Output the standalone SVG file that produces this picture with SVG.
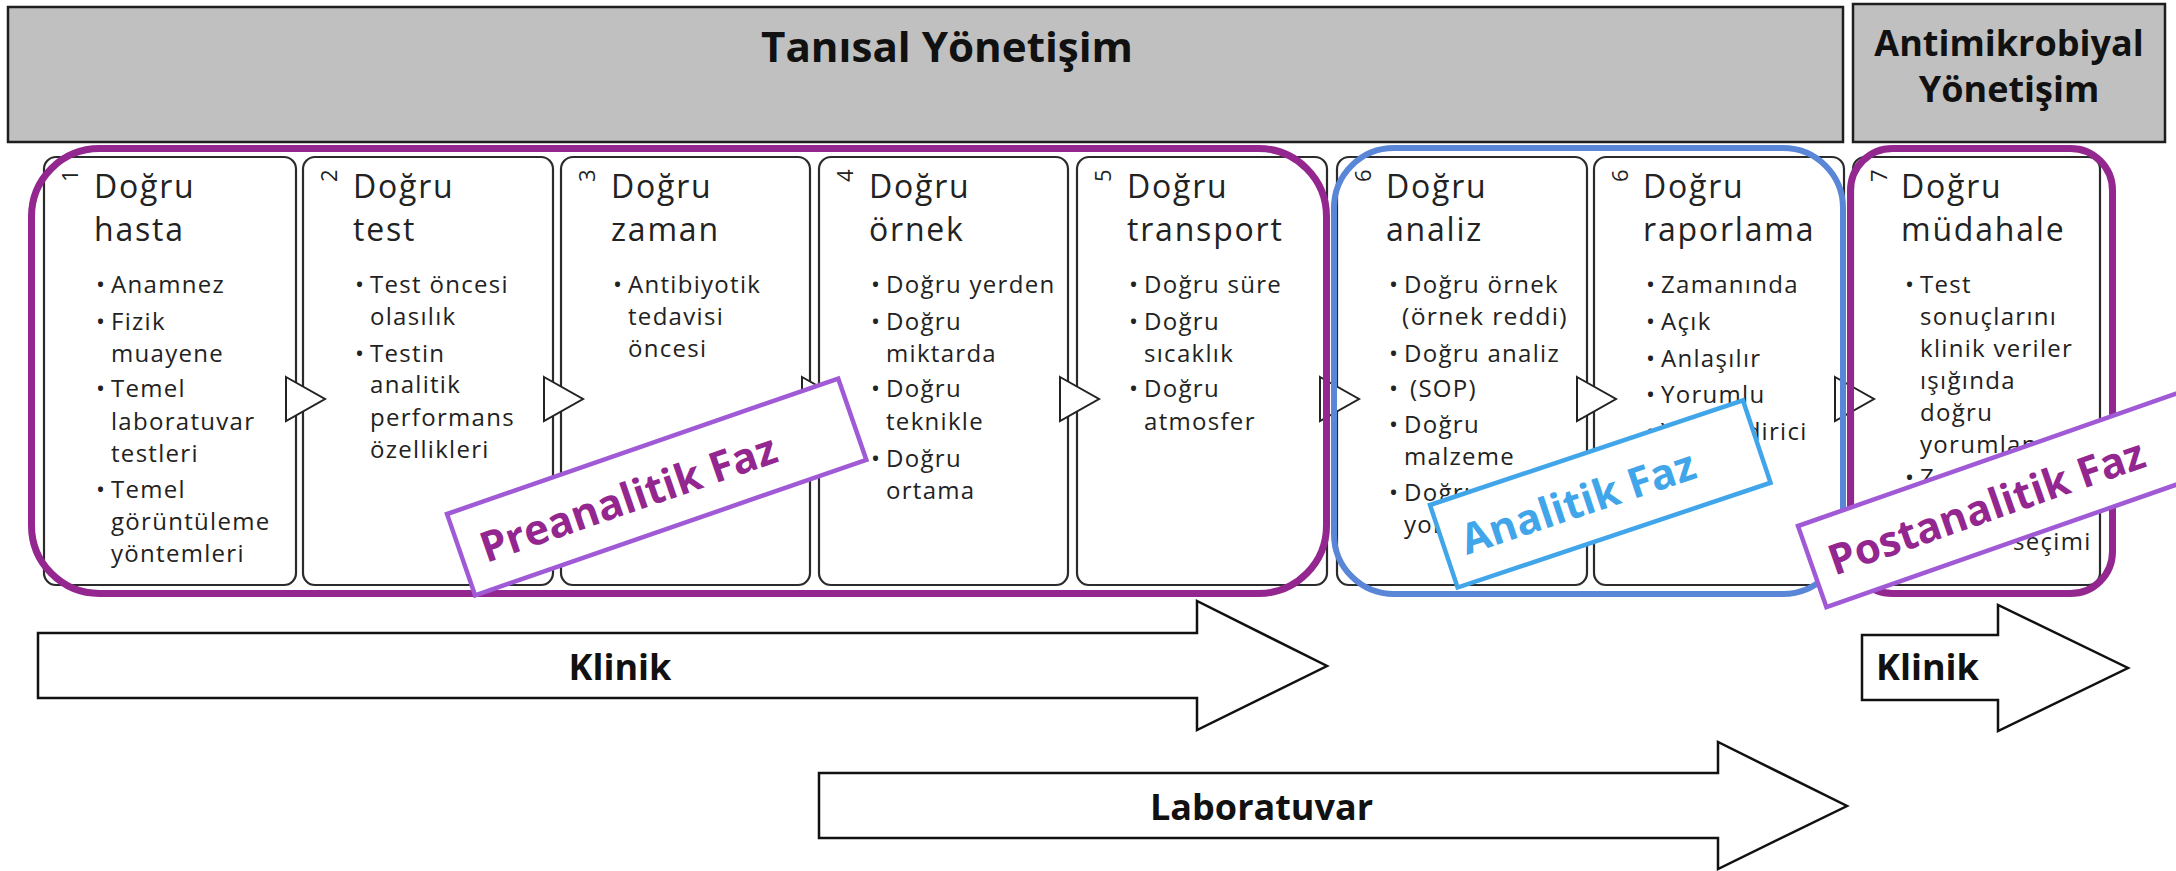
<svg xmlns="http://www.w3.org/2000/svg" width="2176" height="871" viewBox="0 0 2176 871">
<style>
.hdr{fill:#c0c0c0;stroke:#1e1e1e;stroke-width:2.5}
.ht{font-family:"Open Sans",sans-serif;font-weight:bold;fill:#111}
.card{fill:#fff;stroke:#2b2b2b;stroke-width:2.2}
.t{font-family:"Open Sans",sans-serif;font-size:32px;letter-spacing:1.8px;fill:#222}
.b{font-family:"Open Sans",sans-serif;font-size:24px;letter-spacing:1.3px;fill:#222}
.n{font-family:"Open Sans",sans-serif;font-size:22px;fill:#222}
.chev{fill:#fff;stroke:#222;stroke-width:2}
.frP{fill:none;stroke:#93278f;stroke-width:7}
.frB{fill:none;stroke:#5a86d8;stroke-width:6}
.arr{fill:#fff;stroke:#111;stroke-width:2.5}
.at{font-family:"Open Sans",sans-serif;font-weight:bold;font-size:36px;fill:#111}
.lbP{fill:#fff;stroke:#a05ad6;stroke-width:4.5}
.lbB{fill:#fff;stroke:#41a5ea;stroke-width:4.5}
.lt{font-family:"Open Sans",sans-serif;font-weight:bold;font-size:42px}
</style>

<g id="header-tanisal">
<rect class="hdr" x="8" y="7" width="1835" height="135"/>
<text class="ht" x="947" y="62" font-size="42" text-anchor="middle" textLength="372" lengthAdjust="spacingAndGlyphs">Tanısal Yönetişim</text>
</g>
<g id="header-antimikrobiyal">
<rect class="hdr" x="1853" y="4" width="312" height="138"/>
<text class="ht" font-size="36" text-anchor="middle"><tspan x="2009" y="56">Antimikrobiyal</tspan><tspan x="2009" y="102">Yönetişim</tspan></text>
</g>

<g id="card1">
<rect class="card" x="44" y="157" width="252" height="428" rx="12"/>
<text class="n" x="78" y="182" transform="rotate(-90 78 182)">1</text>
<text class="t"><tspan x="94" y="198">Doğru</tspan><tspan x="94" y="241">hasta</tspan></text>
<text class="b"><tspan x="96" y="293">•</tspan><tspan x="111">Anamnez</tspan></text>
<text class="b"><tspan x="96" y="330">•</tspan><tspan x="111">Fizik</tspan><tspan x="111" y="362">muayene</tspan></text>
<text class="b"><tspan x="96" y="397">•</tspan><tspan x="111">Temel</tspan><tspan x="111" y="430">laboratuvar</tspan><tspan x="111" y="462">testleri</tspan></text>
<text class="b"><tspan x="96" y="498">•</tspan><tspan x="111">Temel</tspan><tspan x="111" y="530">görüntüleme</tspan><tspan x="111" y="562">yöntemleri</tspan></text>
</g>

<g id="card2">
<rect class="card" x="303" y="157" width="250" height="428" rx="12"/>
<text class="n" x="337" y="182" transform="rotate(-90 337 182)">2</text>
<text class="t"><tspan x="353" y="198">Doğru</tspan><tspan x="353" y="241">test</tspan></text>
<text class="b"><tspan x="355" y="293">•</tspan><tspan x="370">Test öncesi</tspan><tspan x="370" y="325">olasılık</tspan></text>
<text class="b"><tspan x="355" y="362">•</tspan><tspan x="370">Testin</tspan><tspan x="370" y="393">analitik</tspan><tspan x="370" y="426">performans</tspan><tspan x="370" y="458">özellikleri</tspan></text>
</g>

<g id="card3">
<rect class="card" x="561" y="157" width="249" height="428" rx="12"/>
<text class="n" x="595" y="182" transform="rotate(-90 595 182)">3</text>
<text class="t"><tspan x="611" y="198">Doğru</tspan><tspan x="611" y="241">zaman</tspan></text>
<text class="b"><tspan x="613" y="293">•</tspan><tspan x="628">Antibiyotik</tspan><tspan x="628" y="325">tedavisi</tspan><tspan x="628" y="357">öncesi</tspan></text>
</g>

<g id="card4">
<rect class="card" x="819" y="157" width="249" height="428" rx="12"/>
<text class="n" x="853" y="182" transform="rotate(-90 853 182)">4</text>
<text class="t"><tspan x="869" y="198">Doğru</tspan><tspan x="869" y="241">örnek</tspan></text>
<text class="b"><tspan x="871" y="293">•</tspan><tspan x="886">Doğru yerden</tspan></text>
<text class="b"><tspan x="871" y="330">•</tspan><tspan x="886">Doğru</tspan><tspan x="886" y="362">miktarda</tspan></text>
<text class="b"><tspan x="871" y="397">•</tspan><tspan x="886">Doğru</tspan><tspan x="886" y="430">teknikle</tspan></text>
<text class="b"><tspan x="871" y="467">•</tspan><tspan x="886">Doğru</tspan><tspan x="886" y="499">ortama</tspan></text>
</g>

<g id="card5">
<rect class="card" x="1077" y="157" width="250" height="428" rx="12"/>
<text class="n" x="1111" y="182" transform="rotate(-90 1111 182)">5</text>
<text class="t"><tspan x="1127" y="198">Doğru</tspan><tspan x="1127" y="241">transport</tspan></text>
<text class="b"><tspan x="1129" y="293">•</tspan><tspan x="1144">Doğru süre</tspan></text>
<text class="b"><tspan x="1129" y="330">•</tspan><tspan x="1144">Doğru</tspan><tspan x="1144" y="362">sıcaklık</tspan></text>
<text class="b"><tspan x="1129" y="397">•</tspan><tspan x="1144">Doğru</tspan><tspan x="1144" y="430">atmosfer</tspan></text>
</g>

<g id="card6">
<rect class="card" x="1337" y="157" width="250" height="428" rx="12"/>
<text class="n" x="1371" y="182" transform="rotate(-90 1371 182)">6</text>
<text class="t"><tspan x="1386" y="198">Doğru</tspan><tspan x="1386" y="241">analiz</tspan></text>
<text class="b"><tspan x="1389" y="293">•</tspan><tspan x="1404">Doğru örnek</tspan><tspan x="1402" y="325" textLength="166" lengthAdjust="spacingAndGlyphs">(örnek reddi)</tspan></text>
<text class="b"><tspan x="1389" y="362">•</tspan><tspan x="1404">Doğru analiz</tspan></text>
<text class="b"><tspan x="1389" y="397">•</tspan><tspan x="1410">(SOP)</tspan></text>
<text class="b"><tspan x="1389" y="433">•</tspan><tspan x="1404">Doğru</tspan><tspan x="1404" y="465">malzeme</tspan></text>
<text class="b"><tspan x="1389" y="501">•</tspan><tspan x="1404">Doğru</tspan><tspan x="1404" y="533">yorum</tspan></text>
</g>

<g id="card6b">
<rect class="card" x="1594" y="157" width="250" height="428" rx="12"/>
<text class="n" x="1628" y="182" transform="rotate(-90 1628 182)">6</text>
<text class="t"><tspan x="1643" y="198">Doğru</tspan><tspan x="1643" y="241">raporlama</tspan></text>
<text class="b"><tspan x="1646" y="293">•</tspan><tspan x="1661">Zamanında</tspan></text>
<text class="b"><tspan x="1646" y="330">•</tspan><tspan x="1661">Açık</tspan></text>
<text class="b"><tspan x="1646" y="367">•</tspan><tspan x="1661">Anlaşılır</tspan></text>
<text class="b"><tspan x="1646" y="403">•</tspan><tspan x="1661">Yorumlu</tspan></text>
<text class="b"><tspan x="1646" y="440">•</tspan><tspan x="1661">Yönlendirici</tspan></text>
</g>

<g id="card7">
<rect class="card" x="1853" y="157" width="247" height="428" rx="12"/>
<text class="n" x="1887" y="182" transform="rotate(-90 1887 182)">7</text>
<text class="t"><tspan x="1901" y="198">Doğru</tspan><tspan x="1901" y="241">müdahale</tspan></text>
<text class="b"><tspan x="1905" y="293">•</tspan><tspan x="1920">Test</tspan><tspan x="1920" y="325">sonuçlarını</tspan><tspan x="1920" y="357">klinik veriler</tspan><tspan x="1920" y="389">ışığında</tspan><tspan x="1920" y="421">doğru</tspan><tspan x="1920" y="453">yorumlanması</tspan><tspan x="1905" y="486">•</tspan><tspan x="1920">Z</tspan><tspan x="2013" y="550">seçimi</tspan></text>
</g>

<g id="connectors">
<polygon class="chev" points="286,377 325,399 286,421"/>
<polygon class="chev" points="544,377 583,399 544,421"/>
<polygon class="chev" points="802,377 841,399 802,421"/>
<polygon class="chev" points="1060,377 1099,399 1060,421"/>
<polygon class="chev" points="1320,377 1359,399 1320,421"/>
<polygon class="chev" points="1577,377 1616,399 1577,421"/>
<polygon class="chev" points="1835,377 1874,399 1835,421"/>
</g>

<g id="frames">
<rect class="frP" x="31.5" y="148.5" width="1295" height="445" rx="68"/>
<rect class="frB" x="1334" y="148" width="509" height="446" rx="60"/>
<rect class="frP" x="1850.5" y="148.5" width="262" height="445" rx="42"/>
</g>

<g id="arrow-klinik1">
<polygon class="arr" points="38,633 1197,633 1197,601 1327,666 1197,730 1197,698 38,698"/>
<text class="at" x="620" y="680" text-anchor="middle">Klinik</text>
</g>
<g id="arrow-laboratuvar">
<polygon class="arr" points="819,773 1718,773 1718,742 1847,806 1718,869 1718,838 819,838"/>
<text class="at" x="1150" y="820">Laboratuvar</text>
</g>
<g id="arrow-klinik2">
<polygon class="arr" points="1862,635 1998,635 1998,605 2128,668 1998,731 1998,700 1862,700"/>
<text class="at" x="1876" y="680">Klinik</text>
</g>

<g id="label-preanalitik" transform="translate(447,514) rotate(-19.1)">
<rect class="lbP" x="0" y="0" width="414" height="86"/>
<text class="lt" x="21" y="59" fill="#93278f">Preanalitik Faz</text>
</g>
<g id="label-analitik" transform="translate(1430,505) rotate(-18.5)">
<rect class="lbB" x="0" y="0" width="330" height="87"/>
<text class="lt" x="19" y="59" fill="#41a5ea">Analitik Faz</text>
</g>
<g id="label-postanalitik" transform="translate(1798,526) rotate(-19.3)">
<rect class="lbP" x="0" y="0" width="440" height="86"/>
<text class="lt" x="18" y="59" fill="#93278f" font-size="43">Postanalitik Faz</text>
</g>
</svg>
